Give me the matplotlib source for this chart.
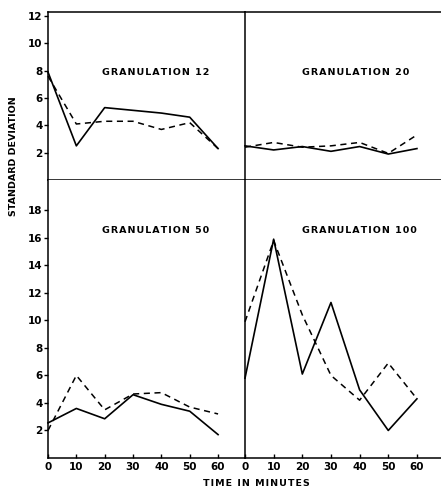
import matplotlib
matplotlib.use("Agg")
import matplotlib.pyplot as plt

# time points (minutes)
minutes = [0, 10, 20, 30, 40, 50, 60]

# standard deviation per granulation: solid and dashed series
g12_solid = [7.9, 2.5, 5.3, 5.1, 4.9, 4.6, 2.3]
g12_dashed = [7.6, 4.1, 4.3, 4.3, 3.7, 4.2, 2.3]
g20_solid = [2.5, 2.2, 2.45, 2.1, 2.45, 1.9, 2.3]
g20_dashed = [2.4, 2.75, 2.4, 2.5, 2.75, 1.95, 3.3]
g50_solid = [2.55, 3.6, 2.85, 4.6, 3.9, 3.4, 1.7]
g50_dashed = [2.0, 6.0, 3.5, 4.65, 4.75, 3.7, 3.2]
g100_solid = [5.8, 15.9, 6.1, 11.3, 4.95, 2.0, 4.3]
g100_dashed = [9.9, 15.8, 10.4, 6.0, 4.2, 6.9, 4.3]

titles = ["GRANULATION 12", "GRANULATION 20", "GRANULATION 50", "GRANULATION 100"]
top_yticks = [2, 4, 6, 8, 10, 12]
bottom_yticks = [2, 4, 6, 8, 10, 12, 14, 16, 18]
xticks = [0, 10, 20, 30, 40, 50, 60]

W, H = 441, 492
plt.rcParams['font.family'] = 'DejaVu Sans'
fig = plt.figure(figsize=(W / 100, H / 100), dpi=100)


def spaced(s):
    # old typewriter-like lettering is spread out
    return "\u200a".join(s)


def px_axes(x0, y0, x1, y1):
    # pixel box (top-left origin) -> figure axes
    return fig.add_axes([x0 / W, 1 - y1 / H, (x1 - x0) / W, (y1 - y0) / H])


ax_tl = px_axes(48, 12, 245, 180)
ax_tr = px_axes(245, 12, 441, 180)
ax_bl = px_axes(48, 180, 245, 458)
ax_br = px_axes(245, 180, 441, 458)

panels = [
    (ax_tl, g12_solid, g12_dashed, (0, 69.5), (0, 12.3)),
    (ax_tr, g20_solid, g20_dashed, (0, 68.4), (0, 12.3)),
    (ax_bl, g50_solid, g50_dashed, (0, 69.5), (0, 20.2)),
    (ax_br, g100_solid, g100_dashed, (0, 68.4), (0, 20.2)),
]

for i, (ax, solid, dashed, xl, yl) in enumerate(panels):
    ax.plot(minutes, solid, color='black', lw=1.2, clip_on=False)
    ax.plot(minutes, dashed, color='black', lw=1.1, dashes=(4, 3), clip_on=False)
    ax.set_xlim(*xl)
    ax.set_ylim(*yl)
    ax.spines['right'].set_visible(False)
    for s in ['left', 'top', 'bottom']:
        ax.spines[s].set_linewidth(1.1)
    if i >= 2:
        ax.spines['top'].set_visible(False)
    ax.tick_params(labelsize=7.5, width=1, length=3, pad=1)

    # panel titles
    tx = 0.275 if i % 2 == 0 else 0.29
    ty = 0.64 if i < 2 else 0.82
    ax.text(tx, ty, spaced(titles[i]), transform=ax.transAxes, ha='left', va='center',
            fontsize=6.8, fontweight='bold')

    if i % 2 == 0:
        ax.set_yticks(top_yticks if i < 2 else bottom_yticks)
        ax.tick_params(axis='y', direction='out', length=3)
    else:
        ax.set_yticks([])

    if i >= 2:
        ax.set_xticks(xticks)
        ax.tick_params(axis='x', direction='in', length=3, pad=3)
    else:
        ax.set_xticks([])

for lab in ax_bl.get_xticklabels() + ax_br.get_xticklabels() + ax_tl.get_yticklabels() + ax_bl.get_yticklabels():
    lab.set_fontweight('bold')

fig.text(14 / W, 1 - 156 / H, "STANDARD DEVIATION", rotation=90, ha='center', va='center',
         fontsize=6.8, fontweight='bold')
fig.text(256 / W, 1 - 483 / H, spaced("TIME IN MINUTES"), ha='center', va='center',
         fontsize=6.8, fontweight='bold')

fig.savefig("out.png", dpi=100)
